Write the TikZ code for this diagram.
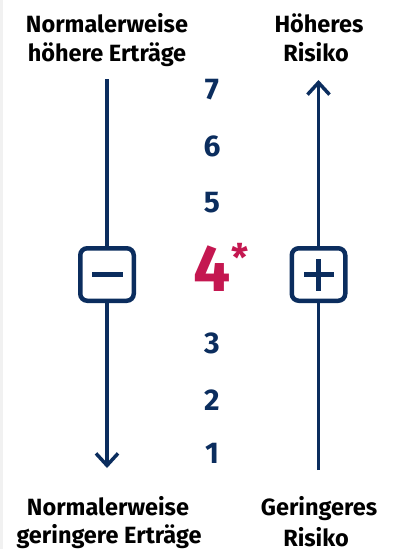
\documentclass[tikz,border=0pt]{standalone}
\usepackage{fontspec}
\setmainfont{Fira Sans}
\usetikzlibrary{arrows.meta}
\definecolor{navy}{HTML}{0B2D5E}
\definecolor{crim}{HTML}{C41750}
\definecolor{strip}{HTML}{F1F1F1}
\begin{document}
\begin{tikzpicture}[x=1pt,y=-1pt,
 lbl/.style={font=\bfseries\fontsize{23.5}{28}\selectfont, text=black, inner sep=0, anchor=base},
 num/.style={font=\bfseries\fontsize{30}{30}\selectfont, text=navy, inner sep=0, anchor=base},
 sbox/.style={draw=navy, line width=4.5pt, rounded corners=7pt, minimum width=53.5pt, minimum height=52.5pt, inner sep=0},
 axis/.style={draw=navy, line width=3.5pt},
 sign/.style={draw=navy, line width=5pt},
 tipped/.style={-{Straight Barb[length=12pt, width=22pt, line width=3.5pt]}}
]
\useasboundingbox (0,0) rectangle (392,549);
\fill[strip] (0,0) rectangle (3,549);

% labels
\node[lbl] (tl1) at (107,32) {Normalerweise};
\node[lbl] (tl2) at (107,61) {höhere Erträge};
\node[lbl] (tr1) at (319,32) {Höheres};
\node[lbl] (tr2) at (316,61) {Risiko};
\node[lbl] (bl1) at (108,515) {Normalerweise};
\node[lbl] (bl2) at (109,543) {geringere Erträge};
\node[lbl] (br1) at (319,515) {Geringeres};
\node[lbl] (br2) at (316,546) {Risiko};

% numbers
\node[num] (n7) at (212,99) {7};
\node[num] (n6) at (212,156) {6};
\node[num] (n5) at (212,212) {5};
\node[num, text=crim, font=\bfseries\fontsize{66}{66}\selectfont] (n4) at (212,291) {4};
\node[text=crim, font=\bfseries\fontsize{38}{38}\selectfont, inner sep=0] (ast) at (240,257) {*};
\node[num] (n3) at (212,353) {3};
\node[num] (n2) at (212,410) {2};
\node[num] (n1) at (212,463) {1};

% boxes
\node[sbox] (mbox) at (107,274.5) {};
\node[sbox] (pbox) at (318.5,274.5) {};
\draw[sign] (92,274.5) -- (123,274.5);
\draw[sign] (304,274.5) -- (334,274.5);
\draw[sign] (318.5,259) -- (318.5,291);

% axes
\coordinate (ltop) at (107,79);
\coordinate (lbot) at (107,468);
\coordinate (rtop) at (318.5,80);
\coordinate (rbot) at (318.5,470);
\draw[axis] (ltop) -- ([yshift=-3pt]mbox.north);
\draw[axis, tipped] ([yshift=3pt]mbox.south) -- (lbot);
\draw[axis, tipped] ([yshift=-3pt]pbox.north) -- (rtop);
\draw[axis] (rbot) -- ([yshift=3pt]pbox.south);
\end{tikzpicture}
\end{document}
